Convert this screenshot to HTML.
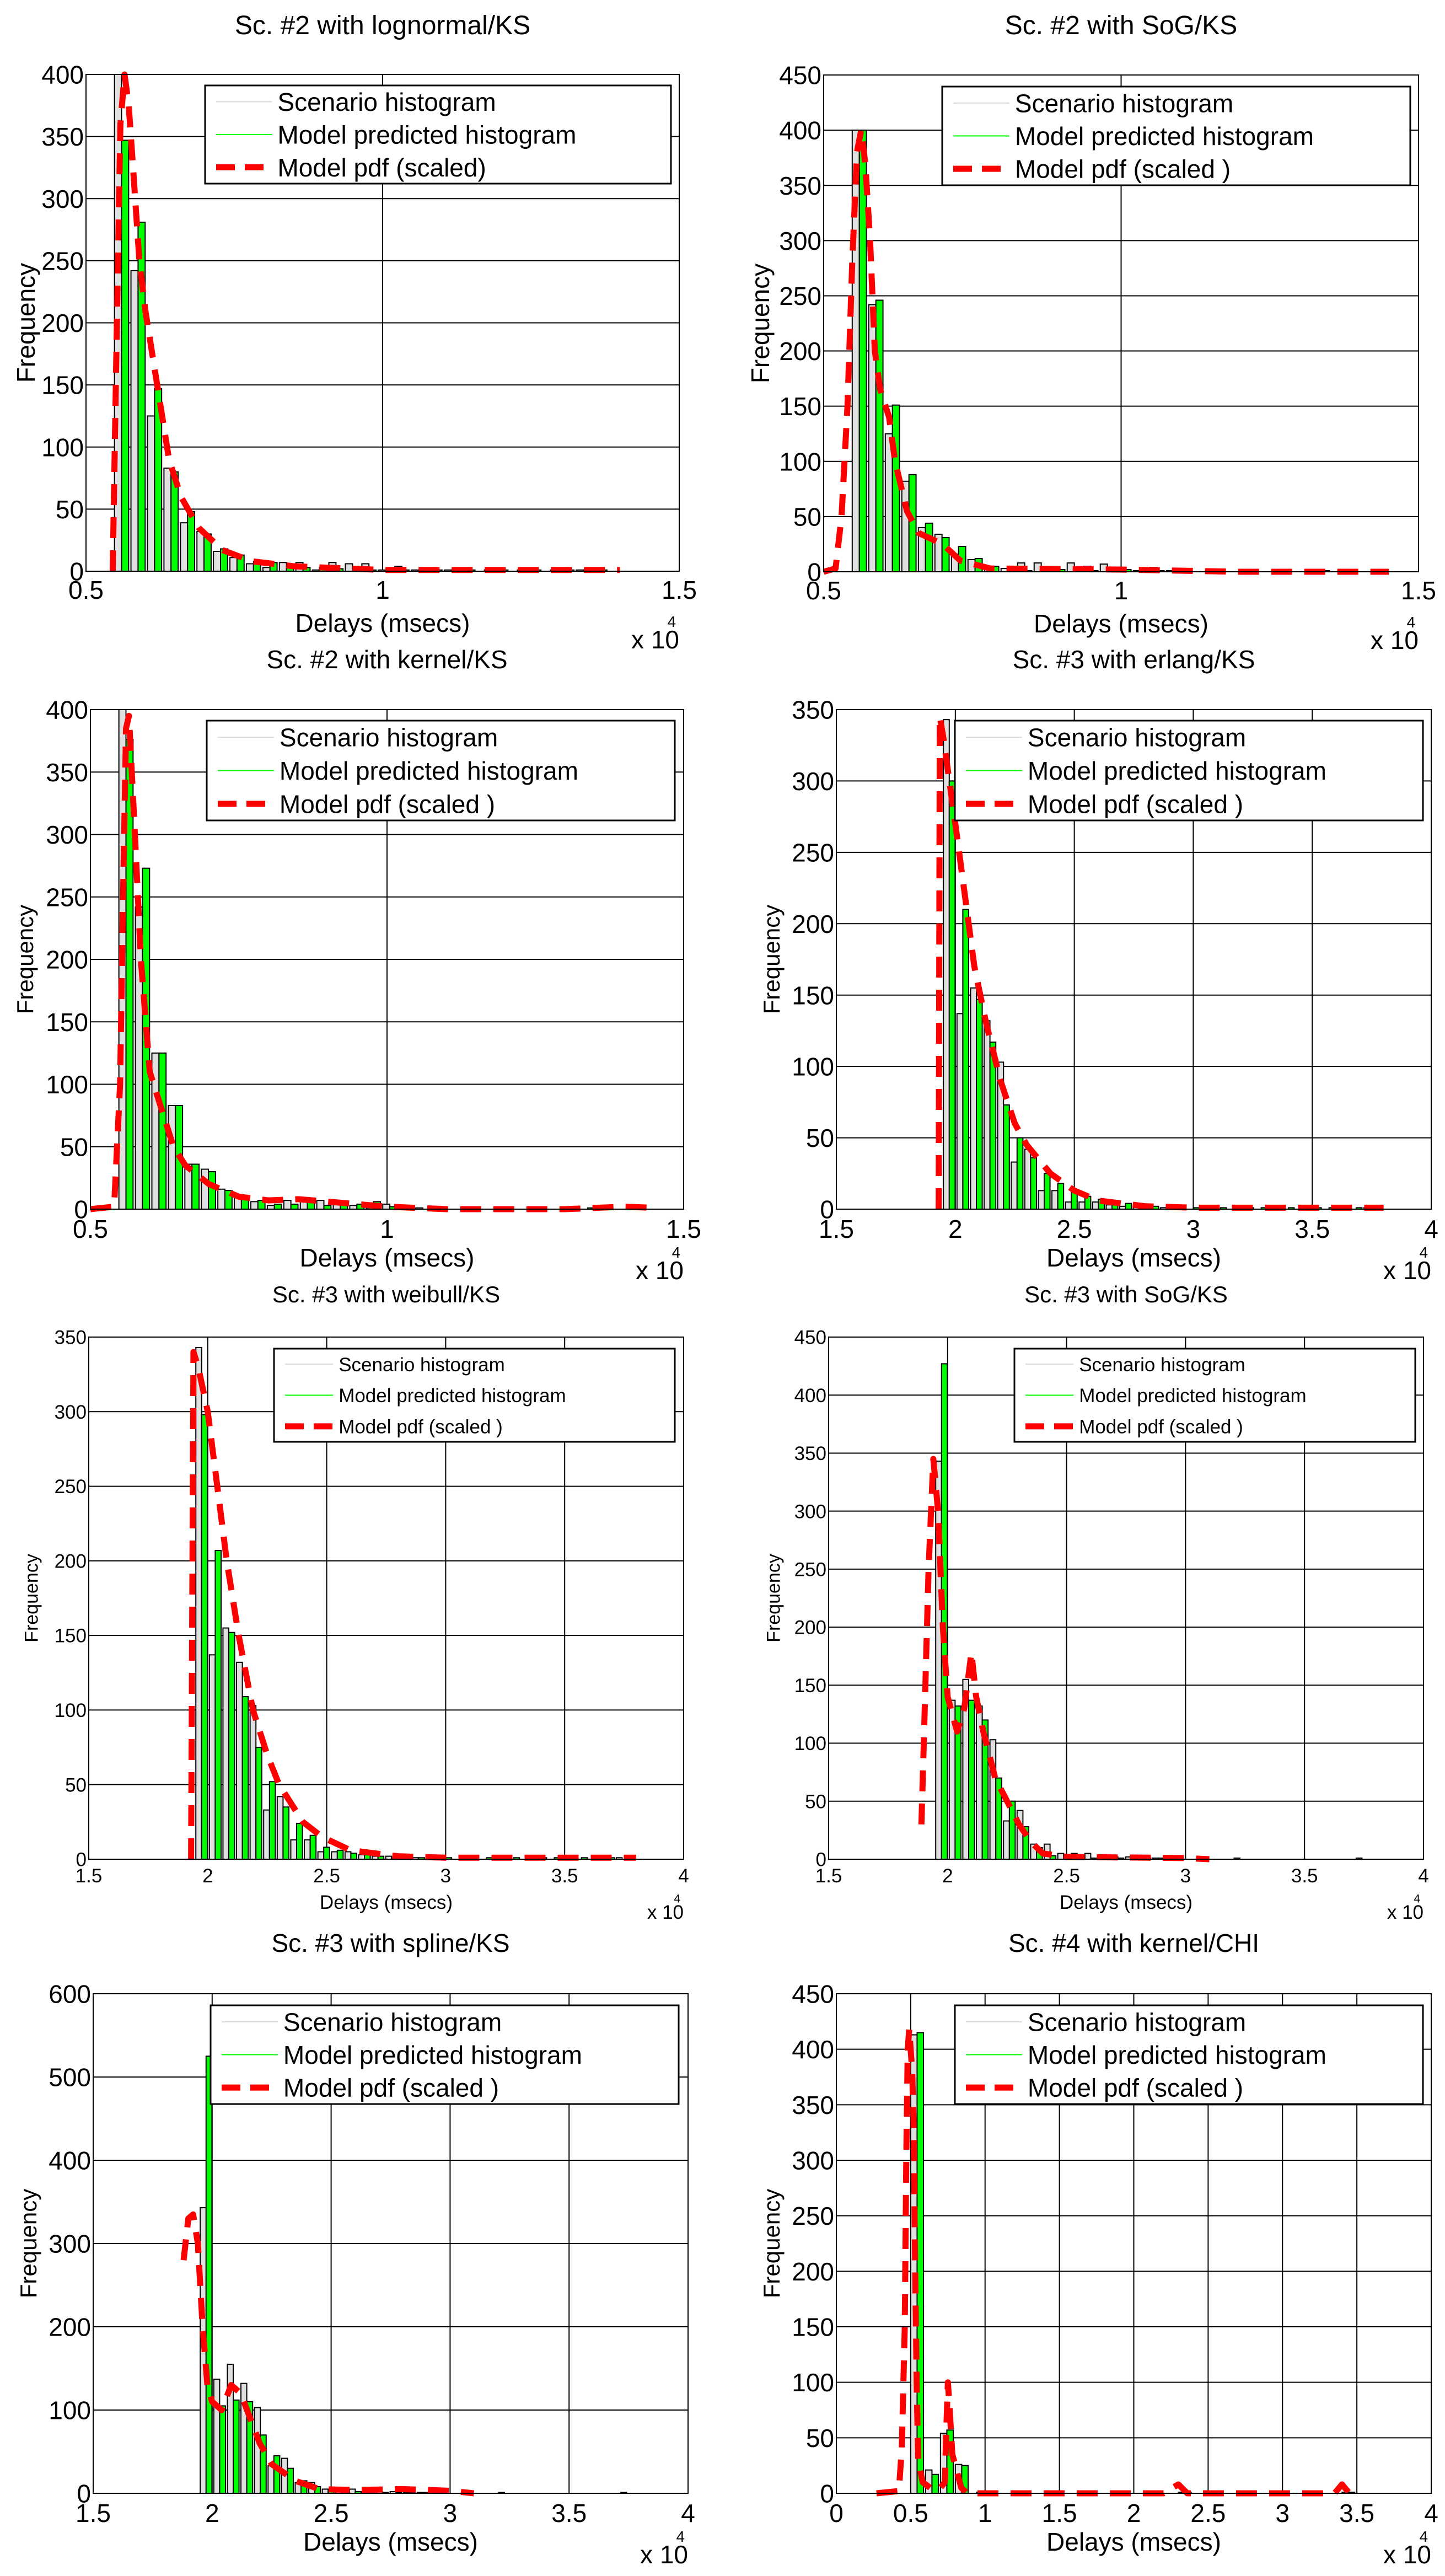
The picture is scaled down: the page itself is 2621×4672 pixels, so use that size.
<!DOCTYPE html>
<html><head><meta charset="utf-8"><title>Delay histograms</title>
<style>
html,body{margin:0;padding:0;background:#fff;}
svg{display:block;}
text{font-family:"Liberation Sans",Arial,sans-serif;}
</style></head>
<body>
<svg id="fig" xmlns="http://www.w3.org/2000/svg" width="2621" height="4672" viewBox="0 0 2621 4672"></svg>
<script>
// ---------- data (delays in units of 1e4 msecs, frequencies) ----------
const sc2BinStart = 0.548, sc2BinWidth = 0.0278;
const sc3BinStart = 1.95, sc3BinWidth = 0.057;
const sc4BinStart = 0.5, sc4BinWidth = 0.1;

const xTicksSc2 = [0.5, 1, 1.5];
const xTickLabelsSc2 = ["0.5", "1", "1.5"];
const xTicksSc3 = [1.5, 2, 2.5, 3, 3.5, 4];
const xTickLabelsSc3 = ["1.5", "2", "2.5", "3", "3.5", "4"];
const xTicksSc4 = [0, 0.5, 1, 1.5, 2, 2.5, 3, 3.5, 4];
const xTickLabelsSc4 = ["0", "0.5", "1", "1.5", "2", "2.5", "3", "3.5", "4"];
const yTicks400 = [0, 50, 100, 150, 200, 250, 300, 350, 400];
const yTicks450 = [0, 50, 100, 150, 200, 250, 300, 350, 400, 450];
const yTicks350 = [0, 50, 100, 150, 200, 250, 300, 350];
const yTicks600 = [0, 100, 200, 300, 400, 500, 600];

const p1Scenario = [400,242,125,83,39,32,16,11,6,3,7,7,1,7,6,6,1,4,1,1,1,1,0,1,0,1,0,0,1,0];
const p1Model    = [347,281,147,80,48,30,18,13,8,7,5,3,3,2,1,1,1,1,1,1,1,1,1,1,1,1,1,1,1,1];
const p1PdfX = [0.545,0.552,0.558,0.565,0.572,0.58,0.59,0.6,0.62,0.64,0.66,0.69,0.73,0.78,0.85,1.0,1.2,1.4];
const p1PdfY = [0,200,360,400,375,320,250,210,150,90,60,35,17,8,4,1,1,1];

const p2Scenario = [400,242,125,82,40,34,16,11,5,3,8,8,3,8,5,7,3,1,4,1,1,0,0,0,0,0,0,0,1,0];
const p2Model    = [400,246,151,88,44,31,23,12,5,1,1,1,2,1,1,1,2,1,1,1,0,0,0,0,0,0,0,0,1,0];
const p2PdfX = [0.5,0.52,0.53,0.54,0.548,0.556,0.563,0.57,0.578,0.586,0.595,0.61,0.62,0.64,0.66,0.7,0.73,0.78,1.0,1.2,1.45];
const p2PdfY = [0,3,50,150,280,380,400,370,300,200,165,140,100,55,35,25,10,3,2,0,0];

const p3Scenario = [400,242,125,83,36,32,16,10,6,3,7,6,7,5,3,1,4,1,1,1,0,0,0,0,0,0,0,0,0,1];
const p3Model    = [376,273,125,83,36,30,15,11,7,4,4,8,3,5,4,6,2,1,0,0,0,0,0,0,0,0,0,0,1,0];
const p3PdfX = [0.5,0.54,0.55,0.555,0.56,0.565,0.575,0.585,0.6,0.62,0.64,0.66,0.7,0.75,0.8,0.85,0.9,0.95,1.0,1.1,1.3,1.4,1.45];
const p3PdfY = [0,2,100,250,385,395,300,200,110,80,50,35,20,10,7,8,6,4,2,0,0,2,1];

const sc3Scenario = [343,137,155,132,103,33,42,13,13,5,5,5,3,2,2,1,1,1,0,0,0,0,1,0,0,0,0,0,0,0,0,1];
const p4Model = [300,210,147,117,73,50,36,25,18,13,9,7,5,4,3,2,2,1,1,1,1,1,1,1,1,1,1,1,1,1,1,1];
const p4PdfX = [1.93,1.935,1.95,2.0,2.04,2.08,2.13,2.19,2.25,2.3,2.4,2.5,2.6,2.8,3.0,3.8];
const p4PdfY = [0,345,330,270,220,170,130,90,60,45,25,13,6,2,1,1];

const p5Model = [298,207,152,109,75,52,35,24,16,8,6,4,3,2,1,1,1,1,1,1,1,1,1,1,1,1,1,1,1,1,1,0];
const p5PdfX = [1.93,1.94,1.96,2.0,2.04,2.08,2.13,2.19,2.25,2.3,2.4,2.48,2.6,2.8,3.0,3.8];
const p5PdfY = [0,340,330,300,250,200,150,100,70,50,25,15,6,2,1,1];

const p6Model = [427,132,137,120,70,50,28,10,3,1,1,1,1,1,1,1,1,1,0,0,0,0,0,0,0,0,0,0,0,0,0,0];
const p6PdfX = [1.89,1.9,1.92,1.94,1.96,1.98,2.0,2.04,2.07,2.1,2.12,2.15,2.2,2.25,2.3,2.35,2.4,2.5,3.0,3.1];
const p6PdfY = [30,100,250,345,300,200,140,110,130,178,140,110,70,50,30,15,5,2,1,0];

const p7Model = [525,105,112,110,70,45,30,15,8,5,3,2,2,1,1,1,1,1,0,0,0,0,0,0,0,0,0,0,0,0,0,0];
const p7PdfX = [1.88,1.9,1.92,1.94,1.96,1.98,2.0,2.04,2.08,2.12,2.16,2.2,2.25,2.3,2.35,2.45,2.6,2.8,3.0,3.1];
const p7PdfY = [280,330,335,300,200,130,110,100,130,120,90,60,35,25,15,5,4,5,3,0];

const p8Scenario = [413,21,54,26,0,0,0,0,0,0,0,0,0,0,0,0,0,0,1,0,0,0,0,0,0,0,0,0,0,1,0];
const p8Model    = [415,17,57,25,1,0,0,0,0,0,0,0,0,0,0,0,0,0,1,0,0,0,0,0,0,0,0,0,0,1,0];
const p8PdfX = [0.27,0.42,0.44,0.46,0.47,0.48,0.49,0.51,0.52,0.53,0.54,0.55,0.58,0.65,0.7,0.73,0.74,0.75,0.76,0.78,0.8,0.84,0.88,2.2,2.3,2.36,3.35,3.4,3.45,3.52];
const p8PdfY = [0,2,40,150,300,400,418,380,330,200,100,30,10,3,5,10,60,100,80,35,25,5,0,0,8,0,0,8,0,0];

const legendLabels = ["Scenario histogram", "Model predicted histogram", "Model pdf (scaled )"];

// ---------- layout ----------
const panels = [
 {id:"p1",title:"Sc. #2 with lognormal/KS",L:156,R:1232,T:135,B:1036,xmin:0.5,xmax:1.5,ymax:400,xt:xTicksSc2,xl:xTickLabelsSc2,yt:yTicks400,s:p1Scenario,m:p1Model,bs:sc2BinStart,bw:sc2BinWidth,px:p1PdfX,py:p1PdfY,
  fs:46,tfs:48,lfs:46,yfs:46,leg:[372,155,1217,333],legLbl:"Model pdf (scaled)",tickOff:50,xlOff:110,x10Off:140,ylX:30,titleY:62},
 {id:"p2",title:"Sc. #2 with SoG/KS",L:1494,R:2573,T:136,B:1037,xmin:0.5,xmax:1.5,ymax:450,xt:xTicksSc2,xl:xTickLabelsSc2,yt:yTicks450,s:p2Scenario,m:p2Model,bs:sc2BinStart,bw:sc2BinWidth,px:p2PdfX,py:p2PdfY,
  fs:46,tfs:48,lfs:46,yfs:46,leg:[1709,157,2558,336],tickOff:50,xlOff:110,x10Off:140,ylX:1362,titleY:62},
 {id:"p3",title:"Sc. #2 with kernel/KS",L:164,R:1240,T:1287,B:2193,xmin:0.5,xmax:1.5,ymax:400,xt:xTicksSc2,xl:xTickLabelsSc2,yt:yTicks400,s:p3Scenario,m:p3Model,bs:sc2BinStart,bw:sc2BinWidth,px:p3PdfX,py:p3PdfY,
  fs:46,tfs:46,lfs:46,yfs:42,leg:[375,1307,1224,1488],tickOff:52,xlOff:104,x10Off:127,ylX:30,titleY:1212},
 {id:"p4",title:"Sc. #3 with erlang/KS",L:1517,R:2596,T:1287,B:2193,xmin:1.5,xmax:4,ymax:350,xt:xTicksSc3,xl:xTickLabelsSc3,yt:yTicks350,s:sc3Scenario,m:p4Model,bs:sc3BinStart,bw:sc3BinWidth,px:p4PdfX,py:p4PdfY,
  fs:46,tfs:46,lfs:46,yfs:42,leg:[1732,1307,2581,1488],tickOff:52,xlOff:104,x10Off:127,ylX:1384,titleY:1212},
 {id:"p5",title:"Sc. #3 with weibull/KS",L:161,R:1240,T:2425,B:3372,xmin:1.5,xmax:4,ymax:350,xt:xTicksSc3,xl:xTickLabelsSc3,yt:yTicks350,s:sc3Scenario,m:p5Model,bs:sc3BinStart,bw:sc3BinWidth,px:p5PdfX,py:p5PdfY,
  fs:35,tfs:42,lfs:35,yfs:34,leg:[497,2446,1224,2615],tickOff:42,xlOff:90,x10Off:108,ylX:44,titleY:2362},
 {id:"p6",title:"Sc. #3 with SoG/KS",L:1503,R:2582,T:2425,B:3372,xmin:1.5,xmax:4,ymax:450,xt:xTicksSc3,xl:xTickLabelsSc3,yt:yTicks450,s:sc3Scenario,m:p6Model,bs:sc3BinStart,bw:sc3BinWidth,px:p6PdfX,py:p6PdfY,
  fs:35,tfs:42,lfs:35,yfs:34,leg:[1840,2446,2567,2615],tickOff:42,xlOff:90,x10Off:108,ylX:1390,titleY:2362},
 {id:"p7",title:"Sc. #3 with spline/KS",L:169,R:1248,T:3616,B:4522,xmin:1.5,xmax:4,ymax:600,xt:xTicksSc3,xl:xTickLabelsSc3,yt:yTicks600,s:sc3Scenario,m:p7Model,bs:sc3BinStart,bw:sc3BinWidth,px:p7PdfX,py:p7PdfY,
  fs:46,tfs:46,lfs:46,yfs:42,leg:[382,3637,1231,3816],tickOff:52,xlOff:104,x10Off:127,ylX:36,titleY:3540},
 {id:"p8",title:"Sc. #4 with kernel/CHI",L:1517,R:2596,T:3616,B:4522,xmin:0,xmax:4,ymax:450,xt:xTicksSc4,xl:xTickLabelsSc4,yt:yTicks450,s:p8Scenario,m:p8Model,bs:sc4BinStart,bw:sc4BinWidth,px:p8PdfX,py:p8PdfY,
  fs:46,tfs:46,lfs:46,yfs:42,leg:[1732,3637,2581,3816],tickOff:52,xlOff:104,x10Off:127,ylX:1384,titleY:3540}
];

const NS = "http://www.w3.org/2000/svg";
const svg = document.getElementById("fig");
function mk(tag, attrs, parent){
  const e = document.createElementNS(NS, tag);
  for (const k in attrs) e.setAttribute(k, attrs[k]);
  (parent || svg).appendChild(e);
  return e;
}
function txt(parent, x, y, str, fs, anchor){
  const e = mk("text", {x:x.toFixed(1), y:y.toFixed(1), "font-size":fs, "text-anchor":anchor}, parent);
  e.textContent = str;
  return e;
}

panels.forEach(function(p){
  const g = mk("g", {});
  
  
  const xs = v => p.L + (v - p.xmin) / (p.xmax - p.xmin) * (p.R - p.L);
  const ys = v => p.B - Math.min(v, p.ymax) / p.ymax * (p.B - p.T);

  const clipId = "clip-" + p.id;
  const cp = mk("clipPath", {id: clipId}, g);
  mk("rect", {x:p.L, y:p.T, width:p.R-p.L, height:p.B-p.T}, cp);

  const t = txt(g, (p.L+p.R)/2, p.titleY, p.title, p.tfs, "middle");
  
  

  p.yt.forEach(function(v){
    const ln = mk("line", {x1:p.L, x2:p.R, y1:ys(v), y2:ys(v), stroke:"#000", "stroke-width":2}, g);
    
    
    const tl = txt(g, p.L-4, ys(v)+p.fs*0.36, String(v), p.fs, "end");
    
    
  });
  p.xt.forEach(function(v, i){
    const ln = mk("line", {x1:xs(v), x2:xs(v), y1:p.T, y2:p.B, stroke:"#000", "stroke-width":2}, g);
    
    
    const tl = txt(g, xs(v), p.B+p.tickOff, p.xl[i], p.fs, "middle");
    
    
  });

  const bg = mk("g", {"clip-path":"url(#"+clipId+")"}, g);
  const bwPx = (xs(p.bw) - xs(0));
  p.s.forEach(function(v, i){
    if (v <= 0) return;
    const x0 = xs(p.bs + i*p.bw);
    const r = mk("rect", {x:x0, y:ys(v), width:bwPx*0.43, height:p.B-ys(v), fill:"#e0e0e0", stroke:"#000", "stroke-width":2}, bg);
    
    
  });
  p.m.forEach(function(v, i){
    if (v <= 0) return;
    const x0 = xs(p.bs + i*p.bw) + bwPx*0.43;
    const r = mk("rect", {x:x0, y:ys(v), width:bwPx*0.43, height:p.B-ys(v), fill:"#00ff00", stroke:"#000", "stroke-width":2}, bg);
    
    
  });

  const pts = p.px.map((x, i) => xs(x).toFixed(1) + "," + ys(p.py[i]).toFixed(1)).join(" ");
  const pl = mk("polyline", {points:pts, fill:"none", stroke:"#ff0000", "stroke-width":11, "stroke-dasharray":"38 22", "stroke-linejoin":"round"}, g);
  
  

  const box = mk("rect", {x:p.L, y:p.T, width:p.R-p.L, height:p.B-p.T, fill:"none", stroke:"#000", "stroke-width":2}, g);
  
  

  const [lx0, ly0, lx1, ly1] = p.leg;
  const lg = mk("g", {}, g);
  
  
  mk("rect", {x:lx0, y:ly0, width:lx1-lx0, height:ly1-ly0, fill:"#fff", stroke:"#000", "stroke-width":3}, lg);
  const rowH = (ly1 - ly0) / 3;
  const lnX0 = lx0 + 20, lnX1 = lx0 + (lx1-lx0)*0.12 + 20, txX = lnX1 + 10;
  const styles = [
    {stroke:"#d8d8d8", "stroke-width":2},
    {stroke:"#00ff00", "stroke-width":2},
    {stroke:"#ff0000", "stroke-width":11, "stroke-dasharray":"34 18"}
  ];
  const entryNames = ['legend-entry-scenario', 'legend-entry-model-histogram', 'legend-entry-model-pdf'];
  legendLabels.forEach(function(lbl, i){
    const cy = ly0 + rowH*(i+0.5);
    const e = mk("g", {}, lg);
    
    
    const a = Object.assign({x1:lnX0, x2:lnX1, y1:cy, y2:cy}, styles[i]);
    mk("line", a, e);
    txt(e, txX, cy + p.lfs*0.36, (i === 2 && p.legLbl) ? p.legLbl : lbl, p.lfs, "start");
  });

  const xlab = txt(g, (p.L+p.R)/2, p.B+p.xlOff, "Delays (msecs)", p.fs, "middle");
  
  

  const x10 = txt(g, p.R, p.B+p.x10Off, "x 10", p.fs, "end");
  
  
  const sup = txt(g, p.R-6, p.B+p.x10Off-p.fs*0.85, "4", p.fs*0.6, "end");
  
  

  const yl = mk("text", {x:0, y:0, "text-anchor":"middle", "font-size":p.yfs,
    transform:"translate(" + (p.ylX + p.yfs*0.72) + "," + ((p.T+p.B)/2) + ") rotate(-90)"}, g);
  yl.textContent = "Frequency";
  
  
});
</script>
</body></html>
